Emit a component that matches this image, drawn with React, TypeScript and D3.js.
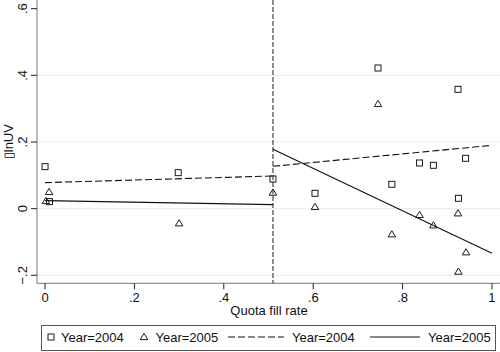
import React from 'react';
import * as d3 from 'd3';

// quota fill rate / change in log unit value, per product
const x2004 = [0, 0.01, 0.298, 0.51, 0.604, 0.745, 0.776, 0.838, 0.869, 0.924, 0.925, 0.941];
const y2004 = [0.126, 0.021, 0.108, 0.089, 0.046, 0.422, 0.073, 0.137, 0.13, 0.358, 0.031, 0.151];
const x2005 = [0.002, 0.009, 0.3, 0.51, 0.604, 0.745, 0.776, 0.838, 0.869, 0.924, 0.925, 0.942];
const y2005 = [0.023, 0.05, -0.044, 0.048, 0.005, 0.314, -0.077, -0.019, -0.05, -0.014, -0.189, -0.131];

// fitted lines, split at the threshold
const threshold = 0.51;
const fit2004 = [
  [[0, 0.078], [0.51, 0.098]],
  [[0.51, 0.127], [1, 0.19]],
];
const fit2005 = [
  [[0, 0.024], [0.51, 0.012]],
  [[0.51, 0.178], [1, -0.134]],
];

const xTicks = [0, 0.2, 0.4, 0.6, 0.8, 1];
const yTicks = [-0.2, 0, 0.2, 0.4, 0.6];
const gridTicks = [-0.2, 0, 0.2, 0.4];

const FONT = '"Liberation Sans", Arial, sans-serif';
const FS = 13;

const fmt = (v: number) => {
  if (v === 0) return '0';
  if (v === 1) return '1';
  return d3.format('.1f')(v).replace('0.', '.');
};

export default function App() {
  const width = 500;
  const height = 352;

  const x = d3.scaleLinear().domain([-0.018, 1.018]).range([37, 500]);
  const y = d3.scaleLinear().domain([-0.224, 0.626]).range([283.3, 0]);
  const line = d3.line<number[]>().x(d => x(d[0])).y(d => y(d[1]));

  const square = (cx: number, cy: number, key: string) => (
    <rect key={key} x={cx - 3} y={cy - 3} width={6} height={6} fill="none" stroke="#1a1a1a" strokeWidth={1} />
  );
  const triangle = (cx: number, cy: number, key: string) => (
    <path key={key} d={`M${cx},${cy - 3.6}L${cx + 3.8},${cy + 2.6}L${cx - 3.8},${cy + 2.6}Z`} fill="none" stroke="#1a1a1a" strokeWidth={1} />
  );

  const x0 = x.range()[0];
  const yBottom = y.range()[0];

  return (
    <svg width={width} height={height} style={{ position: 'absolute', left: 0, top: 0, background: '#fff' }}>
      <rect width={width} height={height} fill="#fff" />
      {/* grid */}
      {gridTicks.map(t => (
        <line key={'g' + t} x1={x0} x2={width} y1={y(t)} y2={y(t)} stroke="#e4eeef" strokeWidth={1} />
      ))}

      {/* axes */}
      <line x1={x0} x2={x0} y1={0} y2={yBottom} stroke="#777" strokeWidth={1} />
      <line x1={x0} x2={width} y1={yBottom} y2={yBottom} stroke="#777" strokeWidth={1} />
      {yTicks.map(t => (
        <g key={'yt' + t}>
          <line x1={x0 - 6} x2={x0} y1={y(t)} y2={y(t)} stroke="#222" strokeWidth={1} />
          <text
            transform={`translate(27,${y(t)}) rotate(-90)`}
            textAnchor="middle"
            fontFamily={FONT}
            fontSize={FS}
            fill="#111"
          >
            {fmt(t)}
          </text>
        </g>
      ))}
      {xTicks.map(t => (
        <g key={'xt' + t}>
          <line x1={x(t)} x2={x(t)} y1={yBottom} y2={yBottom + 6} stroke="#222" strokeWidth={1} />
          <text x={x(t)} y={302} textAnchor="middle" fontFamily={FONT} fontSize={FS} fill="#111">
            {fmt(t)}
          </text>
        </g>
      ))}
      <text x={269} y={315} textAnchor="middle" fontFamily={FONT} fontSize={FS} fill="#111">
        Quota fill rate
      </text>
      <text
        transform={`translate(13,${yBottom / 2}) rotate(-90)`}
        textAnchor="middle"
        fontFamily={FONT}
        fontSize={FS}
        fill="#111"
      >
        ▯lnUV
      </text>

      {/* threshold */}
      <line x1={x(threshold)} x2={x(threshold)} y1={0} y2={yBottom} stroke="#444" strokeWidth={1.2} strokeDasharray="5,2" />

      {/* fits */}
      {fit2004.map((seg, i) => (
        <path key={'f4' + i} d={line(seg) || ''} fill="none" stroke="#111" strokeWidth={1.1} strokeDasharray="7,3" />
      ))}
      {fit2005.map((seg, i) => (
        <path key={'f5' + i} d={line(seg) || ''} fill="none" stroke="#111" strokeWidth={1.1} />
      ))}

      {/* points */}
      {x2004.map((v, i) => square(x(v), y(y2004[i]), 's' + i))}
      {x2005.map((v, i) => triangle(x(v), y(y2005[i]), 't' + i))}

      {/* legend */}
      <rect x={41.5} y={325.5} width={454} height={25} fill="#fff" stroke="#555" strokeWidth={1} />
      {square(51, 337, 'ls')}
      <text x={61} y={341.5} fontFamily={FONT} fontSize={FS} fill="#111">Year=2004</text>
      {triangle(144, 337, 'lt')}
      <text x={155.5} y={341.5} fontFamily={FONT} fontSize={FS} fill="#111">Year=2005</text>
      <line x1={228} x2={284} y1={337} y2={337} stroke="#111" strokeWidth={1.1} strokeDasharray="7,3" />
      <text x={292} y={341.5} fontFamily={FONT} fontSize={FS} fill="#111">Year=2004</text>
      <line x1={370} x2={420} y1={337} y2={337} stroke="#111" strokeWidth={1.1} />
      <text x={428} y={341.5} fontFamily={FONT} fontSize={FS} fill="#111">Year=2005</text>
    </svg>
  );
}
